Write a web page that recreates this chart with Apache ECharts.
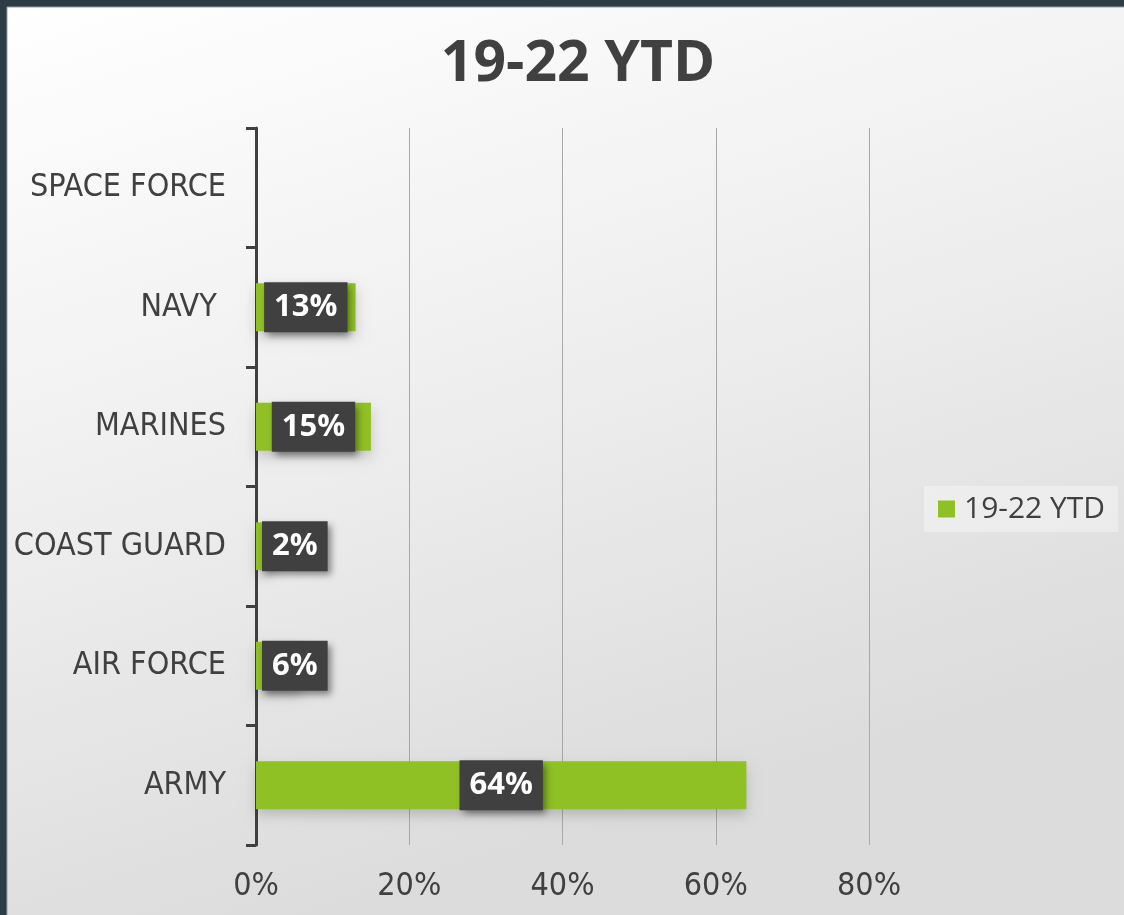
<!DOCTYPE html>
<html>
<head>
<meta charset="utf-8">
<style>
html,body{margin:0;padding:0;background:#2c3d45;}
#chart{width:1124px;height:915px;}
</style>
<script src="https://cdn.jsdelivr.net/npm/echarts@6/dist/echarts.min.js"></script>
</head>
<body>
<div id="chart"></div>
<script>
var categories = ['ARMY', 'AIR FORCE', 'COAST GUARD', 'MARINES', 'NAVY ', 'SPACE FORCE'];
var values = [64, 6, 2, 15, 13, 0];
var seriesName = '19-22 YTD';
var titleText = '19-22 YTD';

var narrow = "'Liberation Sans Narrow', 'DejaVu Sans Condensed', sans-serif";
var dark = '#404040';

var chart = echarts.init(document.getElementById('chart'));

var barData = values.map(function (v) {
  var item = { value: v };
  if (v <= 0) {
    item.label = { show: false };
  } else if (v < 12) {
    item.label = { position: 'insideLeft', distance: 6 };
  }
  return item;
});

chart.setOption({
  backgroundColor: '#2c3d45',
  graphic: [{
    type: 'rect',
    z: -10,
    silent: true,
    shape: { x: 7, y: 7, width: 1124, height: 915 },
    style: {
      fill: {
        type: 'linear', x: 0, y: 0, x2: 0.25, y2: 1,
        colorStops: [
          { offset: 0, color: '#ffffff' },
          { offset: 0.5, color: '#efefef' },
          { offset: 1, color: '#dcdcdc' }
        ]
      },
      stroke: '#9aa0a3',
      lineWidth: 1
    }
  }],
  title: {
    text: titleText,
    left: 573,
    top: 31,
    textAlign: 'center',
    textStyle: {
      fontFamily: "'Open Sans', sans-serif",
      fontWeight: 'bold',
      fontSize: 57,
      color: dark
    }
  },
  legend: {
    data: [seriesName],
    left: 924,
    top: 486,
    orient: 'vertical',
    icon: 'rect',
    itemWidth: 17,
    itemHeight: 17,
    itemGap: 8,
    padding: [8, 13, 8, 14],
    backgroundColor: 'rgba(255,255,255,0.35)',
    textStyle: {
      fontFamily: "'Open Sans', sans-serif",
      fontSize: 30,
      color: dark,
      padding: [0, 0, 0, 4]
    }
  },
  grid: {
    left: 256,
    right: 255,
    top: 128,
    bottom: 70,
    containLabel: false
  },
  xAxis: {
    type: 'value',
    min: 0,
    max: 80,
    interval: 20,
    axisLine: { show: false },
    axisTick: { show: false },
    axisLabel: {
      formatter: '{value}%',
      fontFamily: narrow,
      fontSize: 32,
      color: dark,
      margin: 26
    },
    splitLine: { lineStyle: { color: '#a8a8a8', width: 1 } }
  },
  yAxis: {
    type: 'category',
    data: categories,
    axisLine: { lineStyle: { color: dark, width: 3 } },
    axisTick: { show: true, length: 10, lineStyle: { color: dark, width: 3 } },
    axisLabel: {
      fontFamily: narrow,
      fontSize: 32,
      color: dark,
      margin: 30
    }
  },
  series: [{
    name: seriesName,
    type: 'bar',
    data: barData,
    barWidth: '40%',
    itemStyle: {
      color: '#8fc124',
      shadowColor: 'rgba(0,0,0,0.18)',
      shadowBlur: 12,
      shadowOffsetY: 6
    },
    label: {
      show: true,
      position: 'inside',
      formatter: function (p) { return p.value + '%'; },
      fontFamily: "'Open Sans', sans-serif",
      fontWeight: 'bold',
      fontSize: 31,
      color: '#ffffff',
      backgroundColor: '#404040',
      lineHeight: 36,
      padding: [7, 10, 7, 10],
      shadowColor: 'rgba(0,0,0,0.45)',
      shadowBlur: 7,
      shadowOffsetX: 3,
      shadowOffsetY: 4
    }
  }]
});
</script>
</body>
</html>
